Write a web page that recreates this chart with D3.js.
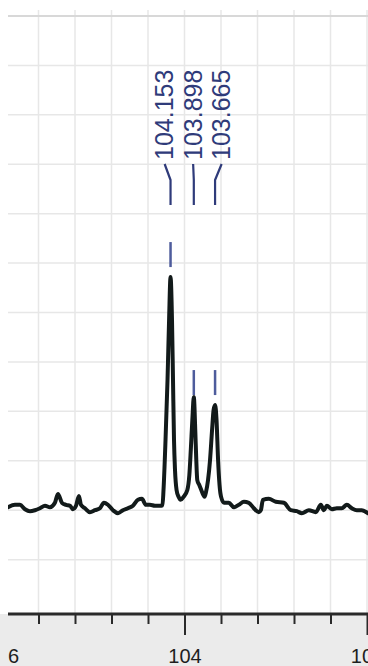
<!DOCTYPE html>
<html>
<head>
<meta charset="utf-8">
<script src="https://cdn.jsdelivr.net/npm/d3@7"></script>
<style>
  body { margin: 0; background: #fff; }
  svg { display: block; font-family: "Liberation Sans", Arial, sans-serif; }
</style>
</head>
<body>
<svg id="chart" width="368" height="666"></svg>
<script>
// spectrum trace (ppm, intensity)
const ppm = [105.934, 105.858, 105.803, 105.748, 105.693, 105.639, 105.584, 105.529, 105.474, 105.420,
  105.387, 105.343, 105.299, 105.255, 105.222, 105.189, 105.157, 105.135, 105.091, 105.036,
  104.981, 104.927, 104.883, 104.839, 104.784, 104.729, 104.675, 104.620, 104.565, 104.510,
  104.467, 104.423, 104.379, 104.324, 104.269, 104.241, 104.230, 104.208, 104.186, 104.169,
  104.153, 104.137, 104.126, 104.115, 104.104, 104.087, 104.065, 104.043, 104.011, 103.969,
  103.947, 103.931, 103.914, 103.898, 103.882, 103.871, 103.860, 103.838, 103.816, 103.794,
  103.780, 103.764, 103.742, 103.720, 103.698, 103.681, 103.665, 103.649, 103.632, 103.616,
  103.599, 103.566, 103.514, 103.459, 103.404, 103.349, 103.295, 103.240, 103.185, 103.163,
  103.141, 103.076, 102.999, 102.911, 102.835, 102.769, 102.714, 102.637, 102.561, 102.506,
  102.473, 102.440, 102.386, 102.331, 102.276, 102.221, 102.166, 102.112, 102.057, 101.991];
const intensity = [0.6, 1.1, 1.1, 0.2, -0.2, 0.0, 0.4, 0.9, 0.6, 1.5,
  3.3, 1.5, 1.1, 0.9, 0.2, 0.9, 2.9, 1.1, 0.4, -0.4,
  0.0, 0.4, 1.5, 1.1, 0.0, -0.6, 0.0, 0.4, 0.9, 2.1,
  2.3, 1.1, 1.1, 0.9, 0.9, 1.0, 4.1, 14.2, 26.4, 38.5,
  47.2, 38.5, 26.4, 14.2, 8.1, 4.1, 2.7, 2.1, 2.7, 4.1,
  7.1, 12.2, 18.3, 22.9, 16.2, 10.2, 6.1, 5.1, 4.1, 3.1,
  2.7, 3.7, 6.1, 10.2, 16.2, 20.3, 21.3, 18.3, 10.2, 5.1,
  2.7, 1.5, 1.5, 0.6, 1.1, 1.7, 1.5, 0.4, -0.4, 0.0,
  2.1, 2.3, 1.7, 1.5, 0.0, -0.2, -0.6, 0.0, -0.4, 1.1,
  0.0, 0.9, 0.2, 0.4, 0.4, 1.1, 0.4, 0.0, 0.0, -0.6];

// picked peaks
const peakPpm = [104.153, 103.898, 103.665];
const peakLabels = ["104.153", "103.898", "103.665"];
const peakMarkLevel = [49.2, 23.3, 23.3];

// axis ticks
const majorTicks = [106, 104, 102];
const majorTickLabels = ["106", "104", "102"];
const minorTicks = [105.6, 105.2, 104.8, 104.4, 103.6, 103.2, 102.8, 102.4];
const gridLevels = [-10, 0, 10, 20, 30, 40, 50, 60, 70, 80, 90, 100];

const svg = d3.select("#chart");
const W = 368, H = 666;
const axisY = 614, plotLeft = 8;

const x = d3.scaleLinear().domain([106, 102]).range([2, 367]);
const y = d3.scaleLinear().domain([-21, 100]).range([axisY, 16]);

const defs = svg.append("defs");
defs.append("clipPath").attr("id", "plot")
  .append("rect").attr("x", plotLeft).attr("y", 0)
  .attr("width", W - plotLeft).attr("height", axisY);
defs.append("clipPath").attr("id", "axisclip")
  .append("rect").attr("x", plotLeft).attr("y", -5)
  .attr("width", W - plotLeft).attr("height", H - axisY + 10);

// gray band under the axis
svg.append("rect")
  .attr("x", 0).attr("y", axisY)
  .attr("width", W).attr("height", H - axisY)
  .attr("fill", "#ebebeb");

const plot = svg.append("g").attr("clip-path", "url(#plot)");

// grid
plot.append("g").selectAll("line")
  .data(minorTicks.concat(majorTicks))
  .join("line")
  .attr("x1", d => x(d)).attr("x2", d => x(d))
  .attr("y1", 10).attr("y2", axisY)
  .attr("stroke", "#e7e7e7").attr("stroke-width", 1.5);

plot.append("g").selectAll("line")
  .data(gridLevels)
  .join("line")
  .attr("x1", plotLeft).attr("x2", W)
  .attr("y1", d => y(d)).attr("y2", d => y(d))
  .attr("stroke", d => d === 100 ? "#d8d8d8" : "#e7e7e7")
  .attr("stroke-width", d => d === 100 ? 2 : 1.5);

// spectrum
const trace = ppm.map((p, i) => ({ p: p, v: intensity[i] }));
const line = d3.line()
  .x(d => x(d.p))
  .y(d => y(d.v))
  .curve(d3.curveMonotoneX);

plot.append("path")
  .datum(trace)
  .attr("d", line)
  .attr("fill", "none")
  .attr("stroke", "#121a1a")
  .attr("stroke-width", 4)
  .attr("stroke-linejoin", "round")
  .attr("stroke-linecap", "round");

// peak picking marks
const labelColor = "#2f3b7a";
const markColor = "#4e5c9c";
const peakX = peakPpm.map(p => x(p));
const midX = d3.mean(peakX);
const labelGap = 28.5;
const labelX = peakX.map((d, i) => midX + (i - 1) * labelGap);

const marks = svg.append("g");
peakPpm.forEach((p, i) => {
  const px = peakX[i];
  marks.append("line")
    .attr("x1", px).attr("x2", px)
    .attr("y1", y(peakMarkLevel[i])).attr("y2", y(peakMarkLevel[i]) - 25)
    .attr("stroke", markColor).attr("stroke-width", 2.5);

  marks.append("path")
    .attr("d", d3.line()([[labelX[i], 164], [px, 180], [px, 205]]))
    .attr("fill", "none")
    .attr("stroke", labelColor)
    .attr("stroke-width", 2.2)
    .attr("stroke-linejoin", "round");

  marks.append("text")
    .attr("transform", "translate(" + labelX[i] + ",160) rotate(-90)")
    .attr("dy", "0.35em")
    .attr("text-anchor", "start")
    .attr("font-size", 25)
    .attr("fill", labelColor)
    .text(peakLabels[i]);
});

// x axis
const axisG = svg.append("g")
  .attr("transform", "translate(0," + axisY + ")")
  .attr("clip-path", "url(#axisclip)");

axisG.append("g")
  .call(d3.axisBottom(x).tickValues(minorTicks).tickSize(10).tickFormat(""))
  .call(g => g.select(".domain").remove())
  .call(g => g.selectAll(".tick line").attr("stroke", "#2a2a2a").attr("stroke-width", 2));

axisG.append("g")
  .call(d3.axisBottom(x).tickValues(majorTicks).tickSize(21).tickPadding(14)
    .tickFormat((d, i) => majorTickLabels[i]))
  .call(g => g.select(".domain").remove())
  .call(g => g.selectAll(".tick line").attr("stroke", "#2a2a2a").attr("stroke-width", 2))
  .call(g => g.selectAll(".tick text")
    .attr("font-size", 20)
    .attr("fill", "#1e1e1e")
    .attr("font-family", "Liberation Sans, Arial, sans-serif"));

axisG.append("line")
  .attr("x1", plotLeft).attr("x2", W)
  .attr("y1", 0).attr("y2", 0)
  .attr("stroke", "#2a2a2a")
  .attr("stroke-width", 3);
</script>
</body>
</html>
